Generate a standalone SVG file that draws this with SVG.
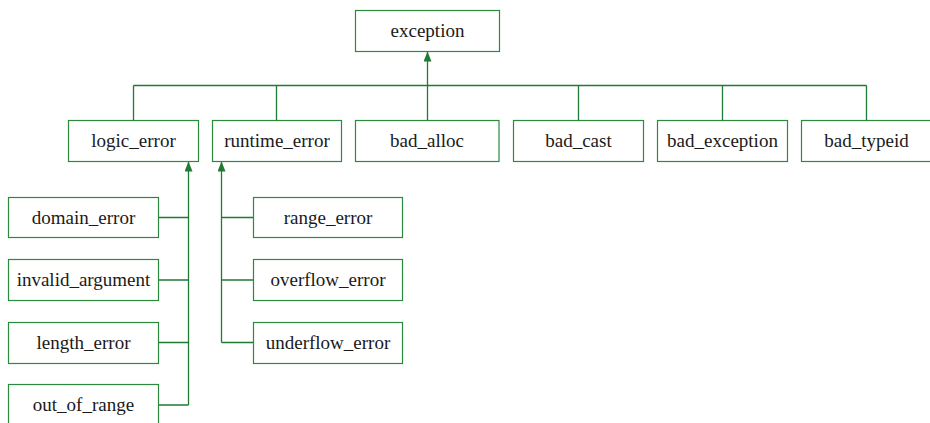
<svg xmlns="http://www.w3.org/2000/svg" width="930" height="423" viewBox="0 0 930 423">
<defs>
<style>
.box{fill:#fff;stroke:#2a8a3e;stroke-width:1.2}
.lbl{font-family:'Liberation Serif','Times New Roman',Times,serif;font-size:19px;fill:#1a1a1a;text-anchor:middle}
.con{fill:none;stroke:#1f7a33;stroke-width:1.3}
</style>
<marker id="arr" viewBox="0 0 10 8" refX="10" refY="4" markerWidth="10" markerHeight="8" markerUnits="userSpaceOnUse" orient="auto">
<path d="M0,0 L10,4 L0,8 Z" fill="#1f7a33"/>
</marker>
</defs>
<rect width="930" height="423" fill="#fff"/>
<g id="connectors">
<path class="con" d="M133.5 85.5 H866.5"/>
<path class="con" d="M133.5 85.5 V120.5 M276.5 85.5 V120.5 M578.5 85.5 V120.5 M722.5 85.5 V120.5 M866.5 85.5 V120.5"/>
<path class="con" d="M427.5 120.5 V51.5" marker-end="url(#arr)"/>
<path class="con" d="M188.5 405 V161.5" marker-end="url(#arr)"/>
<path class="con" d="M158.5 217.5 H188.5 M158.5 280 H188.5 M158.5 342.5 H188.5 M158.5 405 H188.5"/>
<path class="con" d="M221.5 342.5 V161.5" marker-end="url(#arr)"/>
<path class="con" d="M221.5 217.5 H253.5 M221.5 280 H253.5 M221.5 342.5 H253.5"/>
</g>
<g id="exception"><rect class="box" x="355.5" y="10.5" width="144" height="41"/><text class="lbl" x="427.5" y="37">exception</text></g>
<g id="logic_error"><rect class="box" x="68.5" y="120.5" width="130" height="41"/><text class="lbl" x="133.5" y="147">logic_error</text></g>
<g id="runtime_error"><rect class="box" x="212.5" y="120.5" width="129" height="41"/><text class="lbl" x="277" y="147">runtime_error</text></g>
<g id="bad_alloc"><rect class="box" x="355.5" y="120.5" width="143.5" height="41"/><text class="lbl" x="427" y="147">bad_alloc</text></g>
<g id="bad_cast"><rect class="box" x="513.5" y="120.5" width="130" height="41"/><text class="lbl" x="578.5" y="147">bad_cast</text></g>
<g id="bad_exception"><rect class="box" x="657.5" y="120.5" width="130" height="41"/><text class="lbl" x="722.5" y="147">bad_exception</text></g>
<g id="bad_typeid"><rect class="box" x="801.5" y="120.5" width="130" height="41"/><text class="lbl" x="866.5" y="147">bad_typeid</text></g>
<g id="domain_error"><rect class="box" x="8.5" y="197.5" width="150" height="40"/><text class="lbl" x="83.5" y="223.5">domain_error</text></g>
<g id="invalid_argument"><rect class="box" x="8.5" y="259.5" width="150" height="41"/><text class="lbl" x="83.5" y="286">invalid_argument</text></g>
<g id="length_error"><rect class="box" x="8.5" y="322.5" width="150" height="41"/><text class="lbl" x="83.5" y="349">length_error</text></g>
<g id="out_of_range"><rect class="box" x="8.5" y="384.5" width="150" height="41"/><text class="lbl" x="83.5" y="411">out_of_range</text></g>
<g id="range_error"><rect class="box" x="253.5" y="197.5" width="149" height="40"/><text class="lbl" x="328" y="223.5">range_error</text></g>
<g id="overflow_error"><rect class="box" x="253.5" y="259.5" width="149" height="41"/><text class="lbl" x="328" y="286">overflow_error</text></g>
<g id="underflow_error"><rect class="box" x="253.5" y="322.5" width="149" height="41"/><text class="lbl" x="328" y="349">underflow_error</text></g>
</svg>
